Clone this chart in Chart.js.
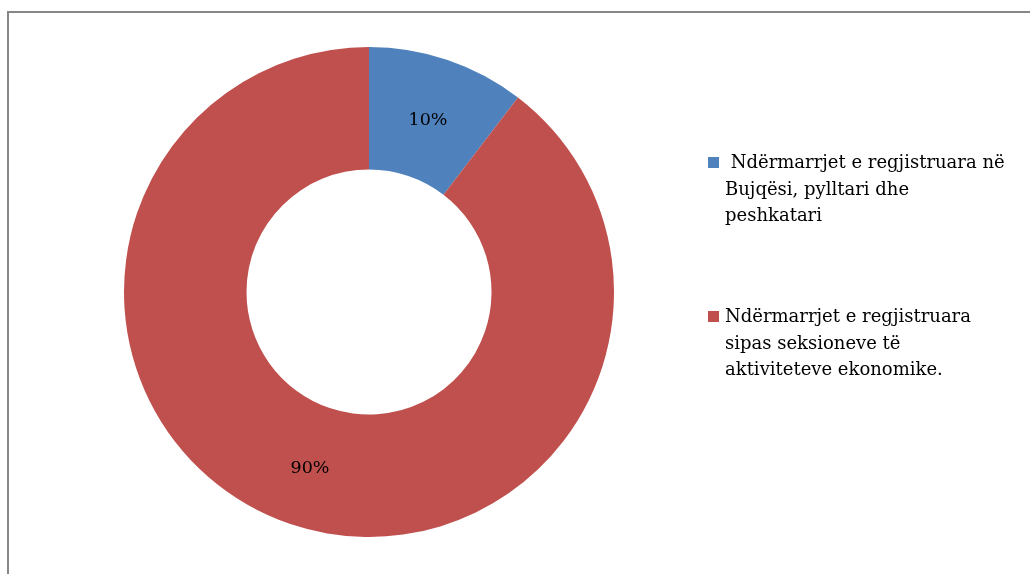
<!DOCTYPE html>
<html>
<head>
<meta charset="utf-8">
<script src="https://cdn.jsdelivr.net/npm/chart.js@4"></script>
<style>
  html, body { margin: 0; padding: 0; background: #fff; overflow: hidden; }
  #frame { position: absolute; left: 7px; top: 11px; width: 1100px; height: 700px;
           border-left: 2px solid #878787; border-top: 2px solid #878787; }
  #wrap { position: absolute; left: 0; top: 0; width: 1030px; height: 574px; }
</style>
</head>
<body>
<div id="frame"></div>
<div id="wrap"><canvas id="c"></canvas></div>
<script>
const categories = [
  ["\u00a0Nd\u00ebrmarrjet e regjistruara n\u00eb", "Bujq\u00ebsi, pylltari dhe", "peshkatari"],
  ["Nd\u00ebrmarrjet e regjistruara", "sipas seksioneve t\u00eb", "aktiviteteve ekonomike."]
];
const shares = [10.4, 89.6];
const sliceColors = ["#4F81BD", "#C0504D"];

const FONT = "'DejaVu Serif', serif";

const labelPlugin = {
  id: 'sliceLabels',
  afterDatasetsDraw(chart) {
    const ctx = chart.ctx;
    const meta = chart.getDatasetMeta(0);
    const total = shares.reduce((a, b) => a + b, 0);
    ctx.save();
    ctx.font = "17.5px " + FONT;
    ctx.fillStyle = "#000";
    ctx.textAlign = "center";
    ctx.textBaseline = "middle";
    meta.data.forEach((arc, i) => {
      const p = arc.getProps(['x', 'y', 'startAngle', 'endAngle', 'innerRadius', 'outerRadius'], true);
      const mid = (p.startAngle + p.endAngle) / 2;
      const r = (p.innerRadius + p.outerRadius) / 2;
      const txt = Math.round(shares[i] / total * 100) + "%";
      ctx.fillText(txt, p.x + Math.cos(mid) * r, p.y + Math.sin(mid) * r + 2);
    });
    ctx.restore();
  }
};

const legendPlugin = {
  id: 'wrappedLegend',
  afterDraw(chart) {
    const ctx = chart.ctx;
    const tops = [168, 322];
    const lineH = 26.5;
    ctx.save();
    ctx.font = "18px " + FONT;
    ctx.textBaseline = "alphabetic";
    ctx.textAlign = "left";
    categories.forEach((lines, i) => {
      ctx.fillStyle = sliceColors[i];
      ctx.fillRect(708, tops[i] - 11, 11, 11);
      ctx.fillStyle = "#000";
      lines.forEach((ln, j) => {
        ctx.fillText(ln, 725, tops[i] + j * lineH);
      });
    });
    ctx.restore();
  }
};

new Chart(document.getElementById('c'), {
  type: 'doughnut',
  data: {
    labels: categories.map(l => l.join(' ')),
    datasets: [{
      data: shares,
      backgroundColor: sliceColors,
      borderWidth: 0,
      hoverOffset: 0
    }]
  },
  options: {
    responsive: true,
    maintainAspectRatio: false,
    animation: false,
    cutout: '50%',
    layout: { padding: { left: 124, top: 47, right: 416, bottom: 37 } },
    plugins: {
      legend: { display: false },
      tooltip: { enabled: false }
    }
  },
  plugins: [labelPlugin, legendPlugin]
});
</script>
</body>
</html>
